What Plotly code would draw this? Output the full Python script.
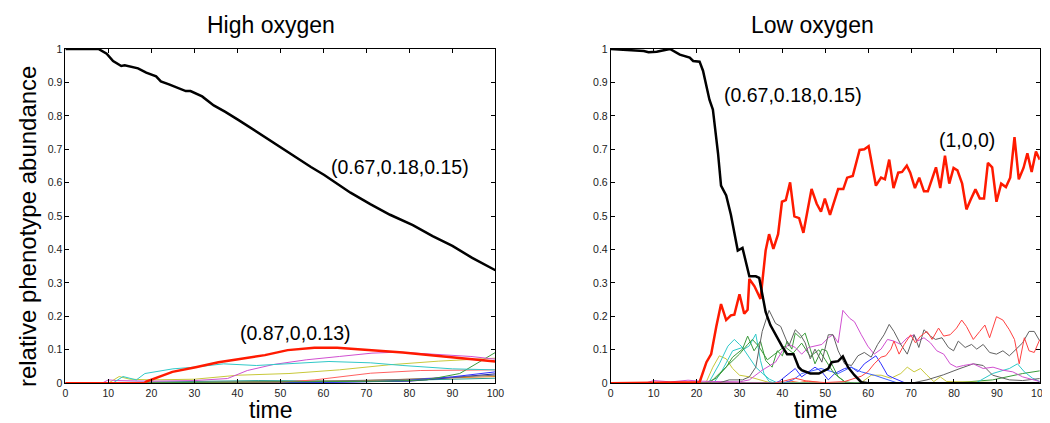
import plotly.graph_objects as go

# ---------------- High oxygen (left) ----------------
hi_black_t = [0, 7.7, 9.6, 11.1, 13, 13.8, 16.9, 18.8, 21.1, 22.2, 24.1, 28, 29.1, 31.8, 34.5, 37.2, 40.2,
              44.8, 47.9, 52.5, 57.1, 60.2, 66.3, 70.9, 75.5, 80.8, 85.4, 90, 94.6, 100]
hi_black_v = [1.0, 1.0, 0.986, 0.964, 0.949, 0.951, 0.942, 0.929, 0.918, 0.903, 0.894, 0.874, 0.874, 0.858,
              0.831, 0.812, 0.788, 0.749, 0.725, 0.686, 0.647, 0.623, 0.570, 0.536, 0.504, 0.473, 0.440,
              0.411, 0.375, 0.338]

hi_red_t = [0, 18.4, 18.8, 24.9, 30.3, 35.6, 40.2, 46.4, 51.7, 57.9, 63.2, 70.9, 78.5, 86.2, 93.9, 100]
hi_red_v = [0, 0, 0.005, 0.034, 0.048, 0.063, 0.072, 0.084, 0.099, 0.106, 0.106, 0.099, 0.092, 0.082, 0.072, 0.065]

hi_cyan_t = [0, 11, 13.4, 16.5, 18.5, 25, 30, 36.8, 44.4, 52, 61.3, 71, 78.5, 90, 100]
hi_cyan_v = [0, 0, 0.02, 0.01, 0.029, 0.043, 0.048, 0.058, 0.053, 0.058, 0.065, 0.061, 0.053, 0.043, 0.04]

hi_magenta_t = [0, 8.5, 10, 12, 20, 30, 37.7, 42.3, 48.4, 56, 63.7, 71.3, 77.5, 86.6, 94.3, 100]
hi_magenta_v = [0, 0, 0.01, 0.008, 0.006, 0.008, 0.014, 0.038, 0.056, 0.07, 0.08, 0.09, 0.093, 0.087, 0.08, 0.072]

hi_yellow_t = [0, 10, 12.5, 15, 20, 30, 40.2, 52, 63.7, 75.2, 86.7, 100]
hi_yellow_v = [0, 0, 0.02, 0.012, 0.01, 0.012, 0.024, 0.029, 0.04, 0.055, 0.066, 0.075]

hi_green_t = [0, 40, 60, 75, 84, 91.7, 100]
hi_green_v = [0, 0.003, 0.004, 0.006, 0.01, 0.029, 0.092]

hi_pink_t = [0, 50, 58, 71, 82.5, 100]
hi_pink_v = [0, 0.003, 0.01, 0.03, 0.038, 0.04]

hi_blue_t = [0, 60, 78, 90, 100]
hi_blue_v = [0, 0.002, 0.007, 0.019, 0.034]

hi_gray_t = [0, 30, 60, 80, 100]
hi_gray_v = [0, 0.003, 0.006, 0.012, 0.024]

hi_teal_t = [0, 20, 45, 70, 100]
hi_teal_v = [0, 0.004, 0.008, 0.006, 0.015]

hi_orange_t = [0, 40, 70, 100]
hi_orange_v = [0, 0.002, 0.008, 0.02]

hi_navy_t = [0, 50, 80, 100]
hi_navy_v = [0, 0.002, 0.006, 0.028]

# ---------------- Low oxygen (right) ----------------
lo_black_t = [0, 7.7, 8.8, 10.7, 13.8, 16.1, 18.4, 19.2, 20.7, 21.5, 23, 23.8, 25, 25.7, 26.9, 28, 29.6,
              30.7, 32.3, 33.8, 34.6, 36.1, 37.2, 38.4, 39.9, 41.1, 42.6, 43.8, 44.5, 46.5, 48.5, 50.7,
              51.5, 53, 54.1, 55.3, 56.8, 58.4, 60, 100]
lo_black_v = [1.0, 0.994, 0.99, 0.992, 1.0, 0.983, 0.974, 0.964, 0.962, 0.935, 0.848, 0.819, 0.688, 0.591,
              0.562, 0.504, 0.397, 0.405, 0.32, 0.32, 0.315, 0.213, 0.174, 0.145, 0.111, 0.087, 0.087,
              0.048, 0.039, 0.029, 0.029, 0.044, 0.063, 0.066, 0.08, 0.048, 0.024, 0.003, 0, 0]

lo_red_t = [0, 20.7, 22.3, 23.4, 24.6, 25.7, 26.9, 28, 28.8, 30, 31.1, 31.9, 32.3, 33.5, 34.9, 36.1, 36.9,
            37.9, 39, 39.9, 40.8, 41.8, 42.8, 43.9, 44.9, 46.8, 48, 49, 49.9, 51.1, 53, 54.2, 55.1, 56.4,
            58, 59.1, 60.1, 61.8, 63, 63.9, 64.9, 65.9, 67, 67.9, 69, 69.8, 70.9, 71.9, 73, 73.9, 75.8,
            76.8, 77.9, 78.9, 79.9, 80.8, 81.9, 82.9, 83.9, 85, 86, 87, 87.9, 88.9, 89.9, 91, 92.1, 93.1,
            94.1, 95.1, 96.2, 97.1, 98.1, 99.1, 100]
lo_red_v = [0, 0.003, 0.063, 0.087, 0.17, 0.237, 0.189, 0.203, 0.205, 0.266, 0.208, 0.22, 0.312, 0.29,
            0.252, 0.397, 0.446, 0.402, 0.446, 0.543, 0.548, 0.601, 0.499, 0.494, 0.45, 0.581, 0.537,
            0.513, 0.552, 0.504, 0.581, 0.581, 0.615, 0.62, 0.698, 0.70, 0.709, 0.591, 0.615, 0.61, 0.669,
            0.584, 0.63, 0.632, 0.651, 0.63, 0.584, 0.615, 0.574, 0.574, 0.646, 0.584, 0.681, 0.597, 0.644,
            0.637, 0.597, 0.52, 0.55, 0.58, 0.553, 0.553, 0.659, 0.646, 0.543, 0.597, 0.587, 0.615, 0.736,
            0.61, 0.644, 0.688, 0.632, 0.693, 0.669]

lo_gray_t = [0, 25, 27.6, 30.7, 32.3, 33.8, 35.3, 36.9, 38.4, 39.6, 41.5, 43, 44.2, 45.3, 46.5, 47.6, 49.2,
             50.7, 51.8, 53, 54.5, 56.1, 57.6, 59.1, 60.7, 62.2, 63.7, 64.9, 66, 67.6, 69.1, 70.7, 71.8,
             73, 74.5, 75.7, 77.2, 78.7, 79.9, 81, 82.6, 84.1, 85.3, 86.8, 88.3, 89.9, 91.4, 92.9, 94.5,
             96, 97.5, 98.7, 100]
lo_gray_v = [0, 0, 0.01, 0.01, 0.019, 0.048, 0.155, 0.218, 0.179, 0.17, 0.111, 0.16, 0.145, 0.121, 0.073,
             0.102, 0.063, 0.145, 0.145, 0.097, 0.058, 0.053, 0.082, 0.092, 0.078, 0.116, 0.145, 0.176,
             0.155, 0.116, 0.087, 0.145, 0.107, 0.16, 0.141, 0.131, 0.136, 0.107, 0.097, 0.126, 0.107,
             0.116, 0.102, 0.116, 0.092, 0.087, 0.097, 0.082, 0.102, 0.121, 0.155, 0.155, 0.126]

lo_gray2_t = [0, 70, 73.7, 77.5, 81.4, 84.5, 86.8, 89, 92.9, 96, 100]
lo_gray2_v = [0, 0, 0.01, 0.025, 0.044, 0.058, 0.053, 0.024, 0.01, 0.008, 0.014]

lo_magenta_t = [0, 8, 10, 14, 18, 21, 30, 32.3, 35.3, 38.4, 40, 41.5, 43, 44.5, 46.1, 47.6, 49.2, 50.7,
                51.8, 53, 54.1, 55.7, 56.8, 58.4, 59.9, 61.4, 63, 64.5, 66, 67.6, 69.1, 70.7, 71.5, 73,
                74.5, 76, 77.6, 79.1, 80.6, 82.2, 84.5, 86.8, 89.1, 91.4, 93.7, 96, 98.3, 100]
lo_magenta_v = [0, 0, 0.008, 0.004, 0.009, 0.006, 0.004, 0.01, 0.039, 0.063, 0.097, 0.116, 0.107, 0.087,
                0.107, 0.112, 0.116, 0.136, 0.145, 0.121, 0.218, 0.194, 0.184, 0.145, 0.111, 0.087, 0.102,
                0.131, 0.126, 0.116, 0.136, 0.145, 0.126, 0.136, 0.121, 0.097, 0.087, 0.058, 0.048, 0.053,
                0.058, 0.044, 0.048, 0.039, 0.034, 0.019, 0.01, 0.005]

lo_green_t = [0, 22, 24.6, 26.9, 28.4, 30.7, 31.9, 33.4, 34.9, 36.1, 37.6, 38.8, 40, 41.1, 42.2, 43, 44.2,
              45.3, 46.5, 47.6, 49.2, 50.3, 51.5, 53, 54.5, 56.8, 100]
lo_green_v = [0, 0, 0.015, 0.048, 0.078, 0.102, 0.141, 0.097, 0.126, 0.068, 0.048, 0.097, 0.082, 0.126,
              0.102, 0.15, 0.136, 0.15, 0.102, 0.058, 0.102, 0.097, 0.058, 0.019, 0.005, 0, 0]

lo_green2_t = [0, 23, 25.3, 27.6, 30, 31.9, 33, 34.5, 36.5, 38.5, 40.5, 42.5, 44.5, 46.5, 48.5, 50, 52, 55, 100]
lo_green2_v = [0, 0, 0.029, 0.058, 0.087, 0.116, 0.131, 0.11, 0.07, 0.09, 0.11, 0.09, 0.12, 0.08, 0.1, 0.07, 0.03, 0, 0]

lo_green3_t = [0, 75, 82, 89, 96, 100]
lo_green3_v = [0, 0, 0.003, 0.01, 0.029, 0.037]

lo_cyan_t = [0, 22, 23, 25.3, 27.3, 28.8, 30, 31.1, 32.3, 33.8, 34.9, 35.7, 36.9, 38.4, 85, 89, 92.9, 94.8,
             96.4, 98.3, 100]
lo_cyan_v = [0, 0, 0.005, 0.058, 0.111, 0.131, 0.116, 0.102, 0.112, 0.147, 0.068, 0.029, 0.005, 0, 0,
             0.029, 0.044, 0.058, 0.034, 0.015, 0.005]

lo_cyan2_t = [0, 24, 26, 28.4, 30.7, 32.3, 33.8, 35.3, 37, 39, 100]
lo_cyan2_v = [0, 0, 0.039, 0.097, 0.107, 0.078, 0.048, 0.03, 0.012, 0, 0]

lo_yellow_t = [0, 21.5, 22.3, 23.8, 25.3, 26.9, 28.4, 30, 32.3, 34.6, 37, 58.4, 60.7, 63, 65.3, 67.6,
               69.1, 70.7, 72.2, 73.7, 75.3, 76.8, 78.3, 100]
lo_yellow_v = [0, 0, 0.005, 0.048, 0.082, 0.073, 0.044, 0.024, 0.019, 0.01, 0.002, 0.002, 0.024, 0.024,
               0.015, 0.029, 0.048, 0.034, 0.044, 0.024, 0.005, 0.019, 0.005, 0]

lo_blue_t = [0, 38, 39.2, 41.5, 43, 44.5, 46.1, 47.6, 49.2, 50.7, 52.2, 54.5, 56.1, 57.6, 59.1, 60.7, 61.8,
             63, 64.5, 66, 68.4, 100]
lo_blue_v = [0, 0, 0.005, 0.029, 0.044, 0.019, 0.034, 0.048, 0.034, 0.01, 0.029, 0.044, 0.048, 0.034,
             0.058, 0.073, 0.082, 0.058, 0.024, 0.015, 0.002, 0]

lo_blue2_t = [0, 40, 42.5, 44.5, 49, 53, 56, 58.4, 61.4, 64.5, 67, 100]
lo_blue2_v = [0, 0, 0.01, 0.029, 0.044, 0.029, 0.048, 0.034, 0.024, 0.01, 0, 0]

lo_lred_t = [0, 38, 39.9, 43, 46.1, 50, 54.5, 56.8, 58.4, 59.9, 61.4, 63, 64.1, 65.3, 66, 67.2, 68.4, 69.9,
             71, 72.2, 73.7, 74.9, 76.4, 77.6, 79.1, 80.6, 81.8, 82.9, 84.5, 86, 87.2, 88.3, 89.9, 91.4,
             92.9, 94.1, 95.2, 96.4, 97.5, 98.7, 100]
lo_lred_v = [0, 0, 0.005, 0.015, 0.005, 0.002, 0.005, 0.015, 0.021, 0.034, 0.058, 0.078, 0.082, 0.102,
             0.126, 0.087, 0.116, 0.145, 0.121, 0.141, 0.155, 0.131, 0.165, 0.141, 0.145, 0.165, 0.189,
             0.17, 0.131, 0.155, 0.174, 0.136, 0.199, 0.189, 0.16, 0.131, 0.058, 0.136, 0.097, 0.092, 0.131]

lo_orange_t = [0, 40, 42, 44, 46, 50, 100]
lo_orange_v = [0, 0, 0.006, 0.002, 0.007, 0, 0]

x_ticks = [0, 10, 20, 30, 40, 50, 60, 70, 80, 90, 100]
y_ticks = [0, 0.1, 0.2, 0.3, 0.4, 0.5, 0.6, 0.7, 0.8, 0.9, 1]

panel_titles = ["High oxygen", "Low oxygen"]
x_title = "time"
y_title = "relative phenotype abundance"

hi_labels = [("(0.67,0.18,0.15)", 77.9, 0.646), ("(0.87,0,0.13)", 53.4, 0.15)]
lo_labels = [("(0.67,0.18,0.15)", 42.4, 0.862), ("(1,0,0)", 83.1, 0.727)]

# ---------------- build figure ----------------
fig = go.Figure()

def add(t, v, color, width, ax):
    fig.add_trace(go.Scatter(x=t, y=v, mode="lines", line=dict(color=color, width=width),
                             xaxis="x" if ax == 1 else "x2", yaxis="y" if ax == 1 else "y2",
                             showlegend=False, hoverinfo="skip"))

thin = 1
# left thin
add(hi_teal_t, hi_teal_v, "#2a9d8f", thin, 1)
add(hi_orange_t, hi_orange_v, "#e08020", thin, 1)
add(hi_navy_t, hi_navy_v, "#2020a0", thin, 1)
add(hi_gray_t, hi_gray_v, "#707070", thin, 1)
add(hi_blue_t, hi_blue_v, "#3030ff", thin, 1)
add(hi_pink_t, hi_pink_v, "#ff6060", thin, 1)
add(hi_green_t, hi_green_v, "#3a9a3a", thin, 1)
add(hi_yellow_t, hi_yellow_v, "#c8c83a", thin, 1)
add(hi_magenta_t, hi_magenta_v, "#d050d0", thin, 1)
add(hi_cyan_t, hi_cyan_v, "#30c8c8", thin, 1)
add(hi_red_t, hi_red_v, "#ff1a00", 2.5, 1)
add(hi_black_t, hi_black_v, "#000000", 2.5, 1)

# right thin
add(lo_orange_t, lo_orange_v, "#ff6030", thin, 2)
add(lo_green3_t, lo_green3_v, "#3a9a3a", thin, 2)
add(lo_yellow_t, lo_yellow_v, "#c8c83a", thin, 2)
add(lo_blue_t, lo_blue_v, "#3030ff", thin, 2)
add(lo_blue2_t, lo_blue2_v, "#4060ff", thin, 2)
add(lo_cyan_t, lo_cyan_v, "#30c8c8", thin, 2)
add(lo_cyan2_t, lo_cyan2_v, "#30c8c8", thin, 2)
add(lo_green_t, lo_green_v, "#3a9a3a", thin, 2)
add(lo_green2_t, lo_green2_v, "#3a9a3a", thin, 2)
add(lo_gray2_t, lo_gray2_v, "#606060", thin, 2)
add(lo_magenta_t, lo_magenta_v, "#d050d0", thin, 2)
add(lo_gray_t, lo_gray_v, "#606060", thin, 2)
add(lo_lred_t, lo_lred_v, "#ff4040", thin, 2)
add(lo_red_t, lo_red_v, "#ff1a00", 2.5, 2)
add(lo_black_t, lo_black_v, "#000000", 2.5, 2)

W, H = 1050, 423
y_dom = [(H - 380) / H, (H - 36) / H]
axis_common = dict(range=[0, 100], tickvals=x_ticks, ticks="inside", ticklen=4, mirror="ticks",
                   showline=True, linecolor="black", linewidth=1, showgrid=False, zeroline=False,
                   tickfont=dict(size=10.5, color="#222"), tickcolor="black")
yaxis_common = dict(range=[0, 1], tickvals=y_ticks, ticks="inside", ticklen=4, mirror="ticks",
                    showline=True, linecolor="black", linewidth=1, showgrid=False, zeroline=False,
                    tickfont=dict(size=10.5, color="#222"), tickcolor="black", domain=y_dom)

fig.update_layout(
    width=W, height=H, margin=dict(l=0, r=0, t=0, b=0),
    paper_bgcolor="white", plot_bgcolor="white",
    font=dict(family="Liberation Sans, Arial, sans-serif", color="black"),
    xaxis=dict(domain=[55 / W, 490 / W], anchor="y", **axis_common),
    yaxis=dict(anchor="x", **yaxis_common),
    xaxis2=dict(domain=[606.7 / W, 1040.7 / W], anchor="y2", **axis_common),
    yaxis2=dict(anchor="x2", **yaxis_common),
)

ann = []
for title, cx, tx in zip(panel_titles, [263, 811], [263, 814]):
    ann.append(dict(text=title, x=cx / W, y=(H - 11) / H, xref="paper", yref="paper",
                    showarrow=False, font=dict(size=23), xanchor="center", yanchor="middle"))
    ann.append(dict(text=x_title, x=tx / W, y=0, xref="paper", yref="paper",
                    showarrow=False, font=dict(size=23), xanchor="center", yanchor="bottom"))
ann.append(dict(text=y_title, x=17.5 / W, y=(H - 218) / H, xref="paper", yref="paper", textangle=-90,
                showarrow=False, font=dict(size=24), xanchor="center", yanchor="middle"))
for txt, tx, ty in hi_labels:
    ann.append(dict(text=txt, x=tx, y=ty, xref="x", yref="y", showarrow=False, font=dict(size=19.5)))
for txt, tx, ty in lo_labels:
    ann.append(dict(text=txt, x=tx, y=ty, xref="x2", yref="y2", showarrow=False, font=dict(size=19.5)))
fig.update_layout(annotations=ann)

fig.write_html("out.html")
